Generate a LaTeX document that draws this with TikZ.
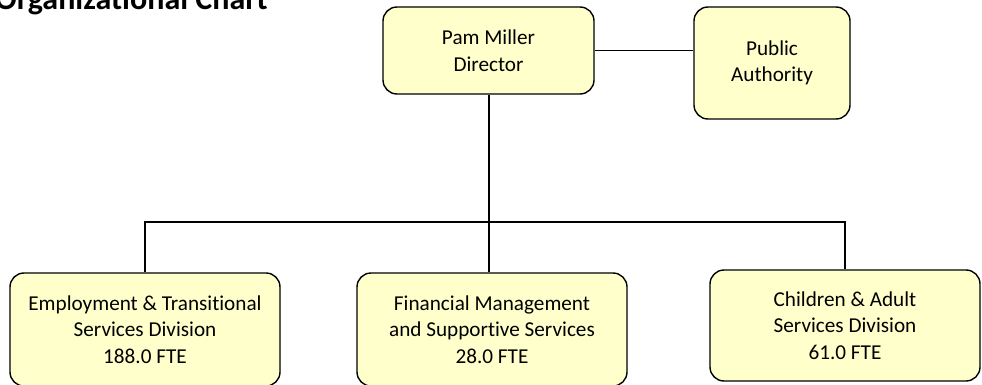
\documentclass[tikz,border=0pt]{standalone}
\usepackage{fontspec}
\setmainfont[Ligatures=CommonOff]{Carlito}
\definecolor{boxfill}{RGB}{255,255,204}
\tikzset{
  orgbox/.style={draw=black, line width=1.4pt, fill=boxfill, rounded corners=14pt,
    align=center, inner sep=0pt, font=\fontsize{21.2}{26.5}\selectfont},
  link/.style={draw=black, line width=1.4pt}
}
\begin{document}
\begin{tikzpicture}[x=1pt,y=-1pt]
\useasboundingbox (0,0) rectangle (982,385);
\node[anchor=base west, font=\bfseries\fontsize{32}{36}\selectfont, inner sep=0pt] (title) at (-5,10) {Organizational Chart};
\node[orgbox, minimum width=211pt, minimum height=87pt] (dir) at (488.5,50.5) {Pam Miller\\Director};
\node[orgbox, minimum width=156pt, minimum height=112pt] (pa) at (772,63) {Public\\Authority};
\node[orgbox, minimum width=270pt, minimum height=113pt] (emp) at (145,329.5) {Employment \& Transitional\\Services Division\\188.0 FTE};
\node[orgbox, minimum width=270pt, minimum height=113pt] (fin) at (492,329.5) {Financial Management\\and Supportive Services\\28.0 FTE};
\node[orgbox, minimum width=270pt, minimum height=111pt] (chi) at (845,325.5) {Children \& Adult\\Services Division\\61.0 FTE};
\coordinate (bus) at (489,222);
\draw[link] (dir.east) -- (dir.east -| pa.west);
\draw[link] (dir.south -| bus) -- (bus |- fin.north);
\draw[link] (emp.north) -- (emp.north |- bus) -- (chi.north |- bus) -- (chi.north);
\end{tikzpicture}
\end{document}
